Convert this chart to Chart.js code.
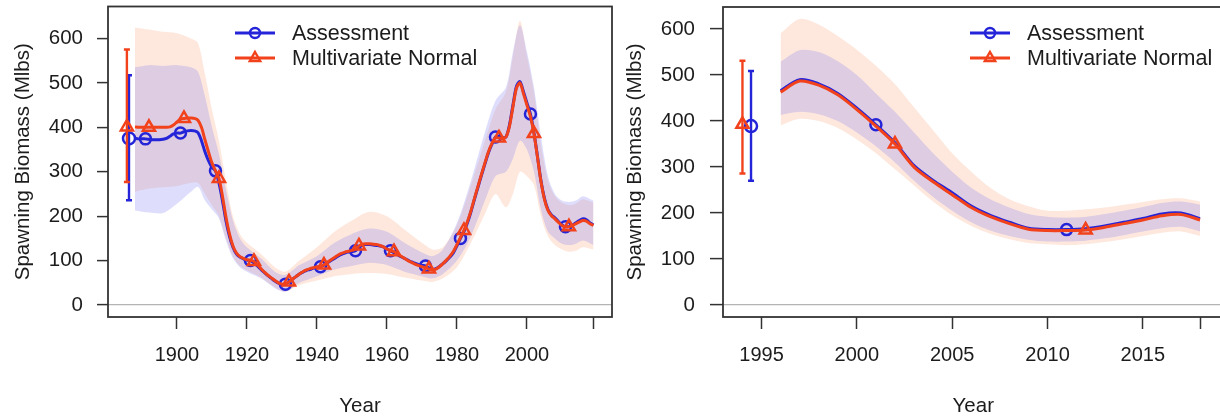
<!DOCTYPE html>
<html>
<head>
<meta charset="utf-8">
<script src="https://cdn.jsdelivr.net/npm/chart.js@4"></script>
<style>
  html, body { margin: 0; padding: 0; background: #fff; overflow: hidden; }
  .panel { position: absolute; top: 0; }
  #wl { left: 0; }
  #wr { left: 610px; }
</style>
</head>
<body>
<div class="panel" id="wl"><canvas id="left" width="620" height="419"></canvas></div>
<div class="panel" id="wr"><canvas id="right" width="620" height="419"></canvas></div>
<script>
// ---- left panel: full time series 1888-2019 ----
const startL = 1888;
const blueL = [375, 374, 374, 374, 373, 372, 372, 372, 373, 375, 380, 385, 387, 387, 390, 392, 393, 392, 388, 370,
  345, 325, 310, 302, 275, 235, 190, 155, 130, 115, 108, 104, 101, 100, 95, 88, 80, 73, 66, 60,
  54, 49, 46, 47, 52, 58, 64, 70, 74, 78, 80, 83, 85, 86, 90, 95, 100, 105, 110, 114,
  117, 119, 120, 122, 130, 135, 136, 136, 135, 134, 133, 131, 126, 122, 118, 113, 109, 105, 101, 97,
  94, 91, 89, 88, 83, 80, 82, 87, 93, 100, 108, 118, 133, 150, 165, 185, 210, 238, 265, 292,
  318, 343, 362, 378, 380, 377, 378, 405, 450, 492, 503, 480, 455, 430, 388, 335, 280, 240, 215, 203,
  196, 188, 180, 176, 177, 180, 185, 190, 194, 192, 185, 180];
const redL = [401, 400, 400, 400, 400, 400, 400, 400, 400, 400, 401, 405, 412, 418, 420, 421, 421, 420, 416, 400,
  372, 345, 320, 302, 285, 245, 198, 160, 133, 117, 109, 105, 102, 101, 98, 90, 82, 74, 67, 61,
  55, 50, 47, 48, 52, 58, 64, 70, 75, 79, 82, 84, 86, 87, 90, 96, 102, 107, 112, 116,
  119, 121, 123, 126, 133, 137, 138, 138, 137, 136, 134, 131, 126, 123, 120, 115, 110, 105, 100, 96,
  92, 89, 86, 84, 81, 79, 81, 86, 93, 101, 110, 121, 136, 152, 168, 188, 212, 240, 267, 294,
  320, 345, 364, 376, 376, 375, 378, 402, 446, 488, 500, 476, 450, 424, 386, 333, 278, 238, 213, 201,
  194, 186, 179, 176, 176, 179, 183, 187, 190, 189, 183, 179];
const markBlueL = [1891, 1901, 1911, 1921, 1931, 1941, 1951, 1961, 1971, 1981, 1991, 2001, 2011];
const markRedL = [1892, 1902, 1912, 1922, 1932, 1942, 1952, 1962, 1972, 1982, 1992, 2002, 2012];

const bandYearsL = [1888, 1892, 1896, 1900, 1904, 1906, 1908, 1910, 1912, 1914, 1916, 1918, 1920, 1924, 1928,
  1931, 1935, 1940, 1945, 1950, 1955, 1960, 1965, 1970, 1973, 1976, 1980, 1984, 1988, 1991,
  1994, 1996, 1998, 2000, 2002, 2004, 2006, 2008, 2010, 2012, 2014, 2016, 2019];
const blueHiL = [535, 540, 538, 540, 535, 525, 470, 400, 340, 260, 190, 150, 130, 105, 75,
  68, 90, 110, 140, 160, 172, 165, 140, 118, 110, 125, 185, 280, 390, 460,
  490, 570, 630, 570, 490, 380, 290, 250, 235, 232, 235, 245, 235];
const blueLoL = [213, 208, 207, 228, 255, 266, 235, 215, 195, 145, 105, 85, 75, 60, 38,
  30, 50, 65, 80, 88, 95, 90, 75, 65, 60, 70, 100, 155, 235, 290,
  300, 330, 370, 350, 300, 215, 165, 150, 138, 135, 138, 145, 135];
const redHiL = [625, 620, 615, 612, 600, 590, 520, 440, 370, 280, 200, 160, 140, 115, 85,
  75, 100, 130, 165, 190, 210, 200, 170, 140, 125, 130, 180, 270, 370, 440,
  480, 560, 640, 560, 480, 360, 280, 245, 230, 225, 228, 238, 230];
const redLoL = [255, 262, 265, 268, 275, 275, 250, 225, 200, 150, 110, 88, 78, 62, 40,
  30, 45, 55, 65, 70, 72, 70, 62, 55, 52, 60, 85, 140, 205, 250,
  220, 250, 300, 290, 270, 200, 155, 135, 125, 120, 122, 130, 125];

// virgin (unfished) estimates with intervals: [year, low, mid, high]
const virginBlueL = [1886.3, 236, 375, 517];
const virginRedL = [1885.7, 277, 401, 575];

const xTicksL = [1900, 1920, 1940, 1960, 1980, 2000, 2019];
const xLabelsL = [1900, 1920, 1940, 1960, 1980, 2000];

// ---- right panel: recent years 1996-2018 ----
const yearsR = [1996, 1997, 1998, 1999, 2000, 2001, 2002, 2003, 2004, 2005, 2006, 2007,
  2008, 2009, 2010, 2011, 2012, 2013, 2014, 2015, 2016, 2017, 2018];
const blueR = [466, 490, 481, 460, 428, 392, 353, 303, 271, 244, 215, 195,
  180, 167, 164, 164, 166, 172, 180, 188, 198, 200, 188];
const redR = [463, 487, 478, 457, 425, 389, 350, 300, 268, 240, 212, 192,
  177, 165, 162, 162, 163, 169, 177, 185, 194, 197, 185];
const blueHiR = [529, 554, 550, 530, 500, 460, 420, 375, 330, 290, 255, 230,
  212, 198, 192, 190, 192, 198, 205, 213, 222, 225, 218];
const blueLoR = [413, 420, 415, 400, 375, 345, 310, 270, 235, 205, 180, 162,
  150, 142, 138, 138, 140, 145, 152, 160, 167, 170, 160];
const redHiR = [591, 622, 610, 585, 555, 520, 480, 430, 380, 330, 290, 255,
  230, 215, 205, 205, 208, 212, 218, 224, 230, 232, 225];
const redLoR = [391, 405, 400, 385, 360, 330, 295, 260, 225, 195, 172, 155,
  143, 135, 132, 130, 132, 137, 143, 150, 157, 160, 150];
const markBlueR = [2001, 2011];
const markRedR = [2002, 2012];
const virginBlueR = [1994.45, 270, 389, 509];
const virginRedR = [1994.0, 286, 393, 531];

const xTicksR = [1995, 2000, 2005, 2010, 2015, 2018];
const xLabelsR = [1995, 2000, 2005, 2010, 2015];

const yTicks = [0, 100, 200, 300, 400, 500, 600];

const BLUE = '#2424d8';
const RED = '#f2421c';
const BLUE_BAND = 'rgba(90, 90, 240, 0.2)';
const RED_BAND = 'rgba(250, 140, 90, 0.2)';
const FONT = { family: '"Liberation Sans", Arial, sans-serif', size: 20.5 };
const TEXT = '#1c1c1c';

const xy = (xs, ys) => xs.map((x, i) => ({ x: x, y: ys[i] }));

function virginSet(v, color, style) {
  return {
    data: [{ x: v[0], y: v[1] }, { x: v[0], y: v[2] }, { x: v[0], y: v[3] }],
    borderColor: color, borderWidth: 2.4, showLine: true,
    pointStyle: ['line', style, 'line'],
    pointRadius: [3, style === 'triangle' ? 7 : 6, 3],
    pointBorderColor: color, pointBorderWidth: 2.5,
    pointBackgroundColor: 'rgba(0,0,0,0)', order: 0
  };
}

const boxLegend = {
  id: 'boxLegend',
  afterDraw(chart, args, o) {
    const { ctx, chartArea: a } = chart;
    ctx.save();
    ctx.strokeStyle = '#333';
    ctx.lineWidth = 1.8;
    ctx.strokeRect(a.left, a.top, a.right - a.left, a.bottom - a.top);
    const items = [
      { label: 'Assessment', color: BLUE, style: 'circle', r: 5 },
      { label: 'Multivariate Normal', color: RED, style: 'triangle', r: 6 }
    ];
    items.forEach((it, i) => {
      const y = o.y + i * 25;
      ctx.strokeStyle = it.color;
      ctx.lineWidth = 2.8;
      ctx.beginPath();
      ctx.moveTo(o.x, y);
      ctx.lineTo(o.x + 40, y);
      ctx.stroke();
      ctx.fillStyle = 'rgba(0,0,0,0)';
      ctx.lineWidth = 2.4;
      Chart.helpers.drawPoint(ctx, { pointStyle: it.style, radius: it.r, borderWidth: 2.4, rotation: 0 }, o.x + 20, y);
      ctx.fillStyle = TEXT;
      ctx.font = '21.5px "Liberation Sans", Arial, sans-serif';
      ctx.textBaseline = 'middle';
      ctx.fillText(it.label, o.x + 57, y + 1);
    });
    ctx.restore();
  }
};

function build(canvasId, p) {
  const yrs = p.years;
  return new Chart(document.getElementById(canvasId), {
    type: 'line',
    data: {
      datasets: [
        {
          label: 'Multivariate Normal', data: xy(yrs, p.red), borderColor: RED, borderWidth: 3,
          pointStyle: 'triangle', pointBorderColor: RED, pointBorderWidth: 2.5,
          pointBackgroundColor: 'rgba(0,0,0,0)',
          pointRadius: c => p.markRed.includes(yrs[c.dataIndex]) ? 7 : 0,
          tension: 0.3, order: 1
        },
        {
          label: 'Assessment', data: xy(yrs, p.blue), borderColor: BLUE, borderWidth: 3,
          pointStyle: 'circle', pointBorderColor: BLUE, pointBorderWidth: 2.5,
          pointBackgroundColor: 'rgba(0,0,0,0)',
          pointRadius: c => p.markBlue.includes(yrs[c.dataIndex]) ? 5.5 : 0,
          tension: 0.3, order: 2
        },
        virginSet(p.virginRed, RED, 'triangle'),
        virginSet(p.virginBlue, BLUE, 'circle'),
        { data: xy(p.bandYears, p.blueHi), fill: '+1', backgroundColor: BLUE_BAND, borderWidth: 0, pointRadius: 0, tension: 0.3, order: 10 },
        { data: xy(p.bandYears, p.blueLo), fill: false, borderWidth: 0, pointRadius: 0, tension: 0.3, order: 10 },
        { data: xy(p.bandYears, p.redHi), fill: '+1', backgroundColor: RED_BAND, borderWidth: 0, pointRadius: 0, tension: 0.3, order: 11 },
        { data: xy(p.bandYears, p.redLo), fill: false, borderWidth: 0, pointRadius: 0, tension: 0.3, order: 11 }
      ]
    },
    options: {
      responsive: false,
      animation: false,
      layout: { padding: { top: p.top, right: p.right, left: 0, bottom: 0 } },
      plugins: {
        legend: { display: false },
        tooltip: { enabled: false },
        boxLegend: { x: p.legendX, y: 33 }
      },
      scales: {
        x: {
          type: 'linear', min: p.xMin, max: p.xMax,
          afterFit: s => { s.height = 102; s.paddingLeft = 0; s.paddingRight = 0; },
          afterBuildTicks: s => { s.ticks = p.xTicks.map(v => ({ value: v })); },
          border: { display: false },
          grid: { drawOnChartArea: false, tickLength: 12, tickColor: '#333', tickWidth: 1.5 },
          ticks: {
            color: TEXT, font: { family: FONT.family, size: 20 }, padding: 14, maxRotation: 0, autoSkip: false,
            callback: v => p.xLabels.includes(v) ? String(v) : ''
          },
          title: { display: true, text: 'Year', color: TEXT, font: FONT, padding: { top: 0, bottom: 0 } }
        },
        y: {
          min: p.yMin, max: p.yMax,
          afterFit: s => { s.width = p.yWidth; s.paddingTop = 0; s.paddingBottom = 0; },
          afterBuildTicks: s => { s.ticks = yTicks.map(v => ({ value: v })); },
          border: { display: false },
          grid: {
            color: c => (c.tick && c.tick.value === 0) ? '#b4b4b4' : 'rgba(0,0,0,0)',
            lineWidth: 1.2, tickLength: p.tickY, tickColor: '#333', tickWidth: 1.5
          },
          ticks: { color: TEXT, font: FONT, padding: p.padY },
          title: { display: true, text: 'Spawning Biomass (Mlbs)', color: TEXT, font: FONT, padding: { top: p.titleY, bottom: 0 } }
        }
      }
    },
    plugins: [boxLegend]
  });
}

build('left', {
  years: blueL.map((_, i) => startL + i), blue: blueL, red: redL,
  markBlue: markBlueL, markRed: markRedL,
  bandYears: bandYearsL, blueHi: blueHiL, blueLo: blueLoL, redHi: redHiL, redLo: redLoL,
  virginBlue: virginBlueL, virginRed: virginRedL,
  xTicks: xTicksL, xLabels: xLabelsL, xMin: 1880.3, xMax: 2024.3,
  yMin: -27, yMax: 672, top: 6, right: 8, yWidth: 108, tickY: 11, padY: 14, titleY: 11,
  legendX: 235
});

build('right', {
  years: yearsR, blue: blueR, red: redR,
  markBlue: markBlueR, markRed: markRedR,
  bandYears: yearsR, blueHi: blueHiR, blueLo: blueLoR, redHi: redHiR, redLo: redLoR,
  virginBlue: virginBlueR, virginRed: virginRedR,
  xTicks: xTicksR, xLabels: xLabelsR, xMin: 1992.98, xMax: 2019.23,
  yMin: -26, yMax: 648, top: 7, right: 5, yWidth: 113, tickY: 13, padY: 15, titleY: 13,
  legendX: 360
});
</script>
</body>
</html>
